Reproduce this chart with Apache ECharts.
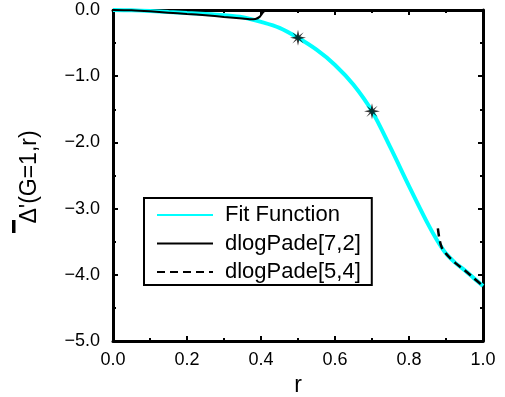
<!DOCTYPE html>
<html>
<head>
<meta charset="utf-8">
<script src="https://cdn.jsdelivr.net/npm/echarts@6/dist/echarts.min.js"></script>
<style>
  html, body { margin: 0; padding: 0; background: #fff; }
  #main { width: 505px; height: 397px; }
</style>
</head>
<body>
<div id="main"></div>
<script>
// fit function
const fitR = [0, 0.05, 0.1, 0.15, 0.2, 0.25, 0.3, 0.35, 0.4, 0.45, 0.5, 0.55, 0.6, 0.65, 0.7, 0.75, 0.8, 0.85, 0.875, 0.9, 0.925, 0.95, 0.975, 1.0];
const fitVal = [0, -0.005, -0.015, -0.03, -0.045, -0.06, -0.08, -0.11, -0.18, -0.27, -0.42, -0.6, -0.83, -1.13, -1.53, -2.08, -2.66, -3.22, -3.47, -3.68, -3.82, -3.93, -4.05, -4.17];

// dlogPade[7,2]
const pade72R = [0, 0.05, 0.1, 0.15, 0.2, 0.25, 0.3, 0.35, 0.37, 0.385, 0.397, 0.405, 0.412];
const pade72Val = [0, -0.005, -0.02, -0.04, -0.06, -0.08, -0.105, -0.13, -0.14, -0.135, -0.1, -0.04, 0];

// dlogPade[5,4]
const pade54R = [0.878, 0.882, 0.888, 0.9, 0.925, 0.95, 0.975, 1.0];
const pade54Val = [-3.3, -3.45, -3.58, -3.68, -3.82, -3.93, -4.05, -4.17];

// marked points
const starR = [0.5, 0.7];
const starVal = [-0.42, -1.53];

const seriesNames = ['Fit Function', 'dlogPade[7,2]', 'dlogPade[5,4]'];

const zip = (a, b) => a.map((v, i) => [v, b[i]]);
const fmt = v => v.toFixed(1).replace('-', '\u2212');

const star = 'path://M10,0L11.6,7.2L17.07,2.93L12.8,8.4L20,10L12.8,11.6L17.07,17.07L11.6,12.8L10,20L8.4,12.8L2.93,17.07L7.2,11.6L0,10L7.2,8.4L2.93,2.93L8.4,7.2Z';

const font = 'Liberation Sans, Arial, sans-serif';

const chart = echarts.init(document.getElementById('main'));

const frameX = (pos, showLabel) => ({
  type: 'value',
  position: pos,
  min: 0,
  max: 1,
  interval: 0.2,
  axisLine: { show: true, onZero: false, lineStyle: { color: '#000', width: 3 } },
  axisTick: { show: true, inside: true, length: 5, lineStyle: { color: '#000', width: 2 } },
  minorTick: { show: true, splitNumber: 2, length: 3, lineStyle: { color: '#000', width: 2 } },
  splitLine: { show: false },
  axisLabel: {
    show: showLabel,
    formatter: fmt,
    color: '#000',
    fontSize: 18,
    fontFamily: font,
    margin: 10,
  },
  name: showLabel ? 'r' : '',
  nameLocation: 'middle',
  nameGap: 33,
  nameTextStyle: { color: '#000', fontSize: 23, fontFamily: font },
});

const frameY = (pos, showLabel) => ({
  type: 'value',
  position: pos,
  min: -5,
  max: 0,
  interval: 1,
  axisLine: { show: true, onZero: false, lineStyle: { color: '#000', width: 3 } },
  axisTick: { show: true, inside: true, length: 5, lineStyle: { color: '#000', width: 2 } },
  minorTick: { show: true, splitNumber: 2, length: 3, lineStyle: { color: '#000', width: 2 } },
  splitLine: { show: false },
  axisLabel: {
    show: showLabel,
    formatter: fmt,
    color: '#000',
    fontSize: 18,
    fontFamily: font,
    margin: 13,
  },
  name: showLabel ? '\u0394\'(G=1,r)' : '',
  nameLocation: 'middle',
  nameGap: 72,
  nameRotate: 90,
  nameTextStyle: { color: '#000', fontSize: 23, fontFamily: font, padding: [0, 3, 0, 0] },
});

const option = {
  backgroundColor: '#fff',
  animation: false,
  grid: { left: 113, right: 22, top: 10, bottom: 56, containLabel: false, outerBoundsMode: 'none' },
  xAxis: [frameX('bottom', true), frameX('top', false)],
  yAxis: [frameY('left', true), frameY('right', false)],
  // the bar over the Delta in the axis title
  graphic: [{
    type: 'rect',
    shape: { x: 12, y: 220, width: 3.5, height: 13 },
    style: { fill: '#000' },
  }],
  legend: {
    data: seriesNames,
    orient: 'vertical',
    left: 144,
    top: 198,
    padding: [6, 11, 2, 12],
    itemGap: 6.5,
    itemWidth: 56,
    itemHeight: 14,
    backgroundColor: '#fff',
    borderColor: '#000',
    borderWidth: 2,
    borderRadius: 0,
    itemStyle: { opacity: 0 },
    textStyle: { color: '#000', fontSize: 22, fontFamily: font, padding: [0, 0, 0, 7] },
  },
  series: [
    {
      name: seriesNames[0],
      type: 'line',
      data: zip(fitR, fitVal),
      smooth: 0.3,
      symbol: 'none',
      lineStyle: { color: '#00ffff', width: 4 },
      itemStyle: { color: '#00ffff' },
      z: 2,
    },
    {
      name: seriesNames[1],
      type: 'line',
      data: zip(pade72R, pade72Val),
      smooth: 0.3,
      symbol: 'none',
      lineStyle: { color: '#000', width: 2 },
      itemStyle: { color: '#000' },
      z: 3,
    },
    {
      name: seriesNames[2],
      type: 'line',
      data: zip(pade54R, pade54Val),
      smooth: 0.3,
      symbol: 'none',
      lineStyle: { color: '#000', width: 2.5, type: [8, 5] },
      itemStyle: { color: '#000' },
      z: 3,
    },
    {
      name: 'points',
      type: 'scatter',
      data: zip(starR, starVal),
      symbol: star,
      symbolSize: 16,
      itemStyle: { color: '#000' },
      z: 4,
    },
  ],
};

chart.setOption(option);
</script>
</body>
</html>
